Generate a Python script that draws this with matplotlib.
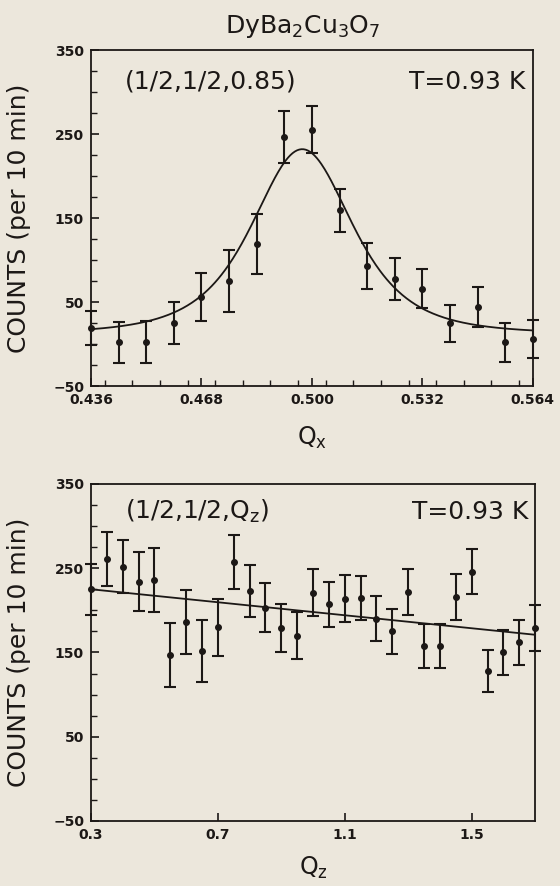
import numpy as np
import matplotlib
matplotlib.use('Agg')
import matplotlib.pyplot as plt
from matplotlib.ticker import MultipleLocator, FixedLocator

# top panel: scan along Qx at (1/2,1/2,0.85)
qx = [0.436, 0.444, 0.452, 0.460, 0.468, 0.476, 0.484, 0.492, 0.500,
      0.508, 0.516, 0.524, 0.532, 0.540, 0.548, 0.556, 0.564]
counts_x = [19, 2, 3, 25, 56, 75, 119, 246, 255, 159, 93, 77, 66, 25, 44, 2, 6]
err_x = [20, 24, 25, 25, 29, 37, 36, 31, 28, 26, 27, 25, 23, 22, 24, 23, 23]
# fitted peak
fit_center = 0.4972
fit_hwhm = 0.0172
fit_height = 220
fit_bg = 12

# bottom panel: scan along Qz at (1/2,1/2,Qz)
qz = [0.30, 0.35, 0.40, 0.45, 0.50, 0.55, 0.60, 0.65, 0.70, 0.75,
      0.80, 0.85, 0.90, 0.95, 1.00, 1.05, 1.10, 1.15, 1.20, 1.25,
      1.30, 1.35, 1.40, 1.45, 1.50, 1.55, 1.60, 1.65, 1.70]
counts_z = [225, 261, 252, 234, 236, 147, 186, 152, 180, 257,
            223, 203, 179, 170, 221, 207, 214, 215, 190, 175,
            222, 158, 158, 216, 246, 128, 150, 162, 179]
err_z = [30, 32, 32, 35, 38, 38, 38, 37, 34, 32,
         31, 29, 29, 28, 28, 27, 28, 26, 27, 27,
         27, 26, 26, 27, 27, 25, 27, 27, 27]
line_qz = [0.30, 1.70]
line_counts = [225, 171]

bg = '#ece7dc'
ink = '#1c1816'

fig = plt.figure(figsize=(5.6, 8.86), dpi=100, facecolor=bg)
ax1 = fig.add_axes([0.1625, 0.5643, 0.789, 0.3792], facecolor=bg)
ax2 = fig.add_axes([0.1625, 0.0734, 0.793, 0.3804], facecolor=bg)

# top panel
ax1.errorbar(qx, counts_x, yerr=err_x, fmt='o', color=ink, ms=4,
             elinewidth=1.5, capsize=4, capthick=1.5, clip_on=False, zorder=3)
qq = np.linspace(qx[0], qx[-1], 400)
w = fit_hwhm / np.sqrt(np.sqrt(2) - 1)
ax1.plot(qq, fit_bg + fit_height / (1 + ((qq - fit_center) / w)**2)**2,
         color=ink, lw=1.3)
ax1.set_xlim(0.436, 0.564)
ax1.xaxis.set_major_locator(FixedLocator([0.436, 0.468, 0.500, 0.532, 0.564]))
ax1.xaxis.set_minor_locator(MultipleLocator(0.008))
ax1.set_xticklabels(['0.436', '0.468', '0.500', '0.532', '0.564'])
ax1.text(0.077, 312, '(1/2,1/2,0.85)', transform=ax1.get_yaxis_transform(),
         fontsize=18, va='center', ha='left', color=ink)
ax1.text(0.982, 312, 'T=0.93 K', transform=ax1.get_yaxis_transform(),
         fontsize=18, va='center', ha='right', color=ink)
ax1.set_xlabel('Q$_\\mathregular{x}$', fontsize=17, color=ink)
ax1.xaxis.set_label_coords(0.5, -0.115)

# bottom panel
ax2.errorbar(qz, counts_z, yerr=err_z, fmt='o', color=ink, ms=4,
             elinewidth=1.5, capsize=4, capthick=1.5, clip_on=False, zorder=3)
ax2.plot(line_qz, line_counts, color=ink, lw=1.3)
ax2.set_xlim(0.3, 1.7)
ax2.xaxis.set_major_locator(FixedLocator([0.3, 0.7, 1.1, 1.5]))
ax2.set_xticklabels(['0.3', '0.7', '1.1', '1.5'])
ax2.text(0.077, 317, '(1/2,1/2,Q$_\\mathregular{z}$)', transform=ax2.get_yaxis_transform(),
         fontsize=18, va='center', ha='left', color=ink)
ax2.text(0.985, 317, 'T=0.93 K', transform=ax2.get_yaxis_transform(),
         fontsize=18, va='center', ha='right', color=ink)
ax2.set_xlabel('Q$_\\mathregular{z}$', fontsize=17, color=ink)
ax2.xaxis.set_label_coords(0.5, -0.1)

for ax in (ax1, ax2):
    ax.set_ylim(-50, 350)
    ax.yaxis.set_major_locator(FixedLocator([-50, 50, 150, 250, 350]))
    ax.yaxis.set_minor_locator(MultipleLocator(25))
    ax.set_ylabel('COUNTS (per 10 min)', fontsize=18, color=ink)
    ax.yaxis.set_label_coords(-0.135, 0.5)
    ax.tick_params(which='both', direction='in', color=ink, top=False, right=False)
    ax.tick_params(which='major', length=6, width=1.2, pad=5, labelsize=10, labelcolor=ink)
    ax.tick_params(which='minor', length=4, width=1.0)
    for lab in ax.get_xticklabels() + ax.get_yticklabels():
        lab.set_fontweight('bold')
    for s in ax.spines.values():
        s.set_linewidth(1.3)
        s.set_color(ink)

fig.text(0.54, 1 - 27 / 886, 'DyBa$_\\mathregular{2}$Cu$_\\mathregular{3}$O$_\\mathregular{7}$',
         fontsize=18, ha='center', va='center', color=ink)

fig.savefig('out.png', dpi=100, facecolor=bg)
